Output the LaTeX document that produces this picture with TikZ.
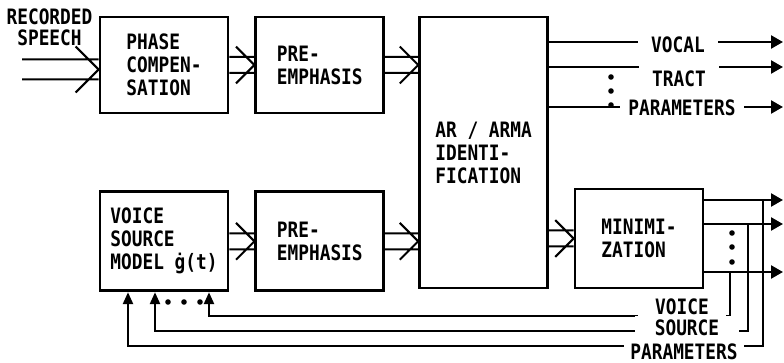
\documentclass[tikz,border=0pt]{standalone}
\usepackage{fontspec}
\setmainfont{DejaVu Sans Mono}[FakeStretch=0.84]
\usetikzlibrary{positioning, arrows.meta}

\begin{document}
\begin{tikzpicture}[
        x=0.5pt, y=-0.5pt,
        font=\fontsize{10.6}{11.5}\selectfont\bfseries,
        block/.style    = {rectangle, draw, line width=1.4pt, minimum width=64pt,
                           minimum height=48pt, align=left, inner sep=2pt},
        line/.style     = {draw, line width=1.2pt},
        outarrow/.style = {line, -{Triangle[length=6pt, width=6.5pt]}},
        feedback/.style = {line, -{Triangle[length=6pt, width=5pt]}},
        dbl/.style      = {line width=1pt, to path={
            ([yshift=#1]\tikztostart) -- ([yshift=#1]\tikztotarget)
            ([yshift=-#1]\tikztostart) -- ([yshift=-#1]\tikztotarget)
            ([xshift={-2.3*#1}, yshift={2.3*#1}]\tikztotarget) -- (\tikztotarget)
                -- ([xshift={-2.3*#1}, yshift={-2.3*#1}]\tikztotarget)}},
        dbl/.default    = 4pt,
        tag/.style      = {fill=white, inner sep=2pt}
    ]
        \useasboundingbox (0,0) rectangle (784,363);

        % boxes
        \node [block] (phase) at (164,65) {PHASE\\COMPEN-\\SATION};
        \node [block, right=12.5pt of phase] (pre1) {PRE-\\EMPHASIS};
        \node [block, minimum height=135.5pt, right=16.5pt of pre1.north east,
               anchor=north west] (ar) {AR / ARMA\\IDENTI-\\FICATION};
        \node [block, minimum height=49.5pt, below=38pt of phase] (voice)
              {VOICE\\SOURCE\\MODEL ġ(t)};
        \node [block, minimum height=49.5pt, right=12.5pt of voice] (pre2) {PRE-\\EMPHASIS};
        \node [block, minimum height=49.5pt] (min) at (639,238.5) {MINIMI-\\ZATION};

        % input
        \node [align=center, inner sep=0pt, font=\fontsize{10.6}{10.5}\selectfont\bfseries]
              (speech) at (49.5,27) {RECORDED\\SPEECH};
        \coordinate (spin) at (22,69.5);

        % double arrows
        \draw [dbl=5pt] (spin) to (spin -| phase.west);
        \draw [dbl] (phase.east) to (pre1.west);
        \draw [dbl] (pre1.east) to (pre1.east -| ar.west);
        \draw [dbl] (voice.east) to (pre2.west);
        \draw [dbl] (pre2.east) to (pre2.east -| ar.west);
        \draw [dbl] (min.west -| ar.east) to (min.west);

        % vocal tract parameters
        \coordinate (vt1) at (783,42);
        \coordinate (vt2) at (783,67);
        \coordinate (vt3) at (783,107);
        \path [outarrow] (ar.east |- vt1) -- (vt1);
        \path [outarrow] (ar.east |- vt2) -- (vt2);
        \path [outarrow] (ar.east |- vt3) -- (vt3);
        \foreach \y in {77,91,105} \fill (611,\y) circle (1.4pt);
        \node [tag, inner xsep=6.75pt] (vocal) at (678,45) {VOCAL};
        \node [tag, inner xsep=6.75pt, inner ysep=3.5pt] (tract) at (679,79) {TRACT};
        \node [tag, inner xsep=4pt] (vtpar) at (682,108) {PARAMETERS};

        % voice source parameters
        \coordinate (vs1) at (783,200);
        \coordinate (vs2) at (783,224);
        \coordinate (vs3) at (783,272);
        \path [outarrow] (min.east |- vs1) -- (vs1);
        \path [outarrow] (min.east |- vs2) -- (vs2);
        \path [outarrow] (min.east |- vs3) -- (vs3);
        \foreach \y in {233,247,262} \fill (732,\y) circle (1.4pt);

        \coordinate (r1) at (763,200);
        \coordinate (r2) at (748,224);
        \coordinate (r3) at (730,272);
        \path [feedback] (r3) |- ([xshift=22.5pt, yshift=-12pt]voice.south)
                              -- ([xshift=22.5pt]voice.south);
        \path [feedback] (r2) |- ([xshift=-4.5pt, yshift=-19.5pt]voice.south)
                              -- ([xshift=-4.5pt]voice.south);
        \path [feedback] (r1) |- ([xshift=-18pt, yshift=-27pt]voice.south)
                              -- ([xshift=-18pt]voice.south);
        \foreach \x in {168,184,200} \fill (\x,302) circle (1.4pt);
        \node [tag, inner xsep=8.75pt] (voicel) at (682,307) {VOICE};
        \node [tag, inner xsep=10pt] (sourcel) at (687,328) {SOURCE};
        \node [tag, inner xsep=3pt, inner ysep=3pt] (vspar) at (684,352) {PARAMETERS};
\end{tikzpicture}
\end{document}
